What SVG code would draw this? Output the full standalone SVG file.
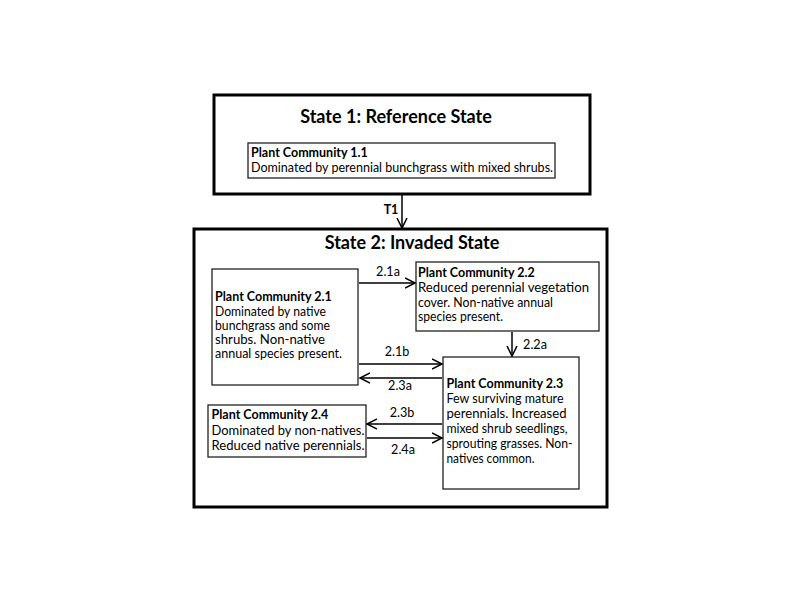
<svg xmlns="http://www.w3.org/2000/svg" width="800" height="600" viewBox="0 0 800 600">
<style>
  .state { fill: #ffffff; stroke: #000000; stroke-width: 3; }
  .pc { fill: #ffffff; stroke: #222222; stroke-width: 1.3; }
  .title { font-family: Lato, "Liberation Sans", Arial, sans-serif; font-weight: bold; font-size: 18px; fill: #000; text-anchor: middle; }
  .pch { font-family: Lato, "Liberation Sans", Arial, sans-serif; font-weight: bold; font-size: 12.5px; fill: #000; }
  .pct { font-family: Lato, "Liberation Sans", Arial, sans-serif; font-size: 12.4px; fill: #000; }
  .lbl { font-family: Lato, "Liberation Sans", Arial, sans-serif; font-size: 12.6px; fill: #000; text-anchor: middle; }
  .lblb { font-family: Lato, "Liberation Sans", Arial, sans-serif; font-weight: bold; font-size: 12.5px; fill: #000; text-anchor: middle; }
  .conn { stroke: #000; stroke-width: 1.5; fill: none; marker-end: url(#arr); }
</style>
<defs>
  <marker id="arr" markerUnits="userSpaceOnUse" markerWidth="14" markerHeight="14" refX="10" refY="6" orient="auto">
    <path d="M0,1 L10,6 L0,11" fill="none" stroke="#000" stroke-width="1.5"/>
  </marker>
</defs>
<rect width="800" height="600" fill="#ffffff"/>

<g id="state1">
  <rect class="state" x="214" y="95" width="376" height="99"/>
  <text class="title" x="396" y="123">State 1: Reference State</text>
</g>
<g id="pc11">
  <rect class="pc" x="248" y="143" width="307" height="35"/>
  <text class="pch" x="251" y="157">Plant Community 1.1</text>
  <text class="pct" x="251" y="172" textLength="302" lengthAdjust="spacingAndGlyphs">Dominated by perennial bunchgrass with mixed shrubs.</text>
</g>

<g id="state2">
  <rect class="state" x="194" y="229" width="413" height="278"/>
  <text class="title" x="412" y="249">State 2: Invaded State</text>
</g>

<g id="pc21">
  <rect class="pc" x="212" y="269" width="146" height="116"/>
  <text class="pch" x="215" y="301">Plant Community 2.1</text>
  <text class="pct" x="215" y="315.5" textLength="111" lengthAdjust="spacingAndGlyphs">Dominated by native</text>
  <text class="pct" x="215" y="330" textLength="115" lengthAdjust="spacingAndGlyphs">bunchgrass and some</text>
  <text class="pct" x="215" y="344" textLength="110" lengthAdjust="spacingAndGlyphs">shrubs. Non-native</text>
  <text class="pct" x="215" y="358" textLength="127" lengthAdjust="spacingAndGlyphs">annual species present.</text>
</g>

<g id="pc22">
  <rect class="pc" x="416" y="262" width="183" height="69"/>
  <text class="pch" x="418" y="277">Plant Community 2.2</text>
  <text class="pct" x="418" y="292" textLength="171" lengthAdjust="spacingAndGlyphs">Reduced perennial vegetation</text>
  <text class="pct" x="418" y="307" textLength="135" lengthAdjust="spacingAndGlyphs">cover. Non-native annual</text>
  <text class="pct" x="418" y="321" textLength="85" lengthAdjust="spacingAndGlyphs">species present.</text>
</g>

<g id="pc23">
  <rect class="pc" x="443" y="357" width="136" height="132"/>
  <text class="pch" x="446.5" y="388">Plant Community 2.3</text>
  <text class="pct" x="446.5" y="403" textLength="117" lengthAdjust="spacingAndGlyphs">Few surviving mature</text>
  <text class="pct" x="446.5" y="418" textLength="120" lengthAdjust="spacingAndGlyphs">perennials. Increased</text>
  <text class="pct" x="446.5" y="433" textLength="121" lengthAdjust="spacingAndGlyphs">mixed shrub seedlings,</text>
  <text class="pct" x="446.5" y="448" textLength="126" lengthAdjust="spacingAndGlyphs">sprouting grasses. Non-</text>
  <text class="pct" x="446.5" y="463" textLength="88" lengthAdjust="spacingAndGlyphs">natives common.</text>
</g>

<g id="pc24">
  <rect class="pc" x="208" y="405" width="158" height="52"/>
  <text class="pch" x="211.5" y="419">Plant Community 2.4</text>
  <text class="pct" x="211.5" y="435" textLength="153" lengthAdjust="spacingAndGlyphs">Dominated by non-natives.</text>
  <text class="pct" x="211.5" y="450" textLength="153" lengthAdjust="spacingAndGlyphs">Reduced native perennials.</text>
</g>

<g id="connectors">
  <line class="conn" x1="402" y1="195" x2="402" y2="228"/>
  <text class="lblb" x="391" y="214">T1</text>

  <line class="conn" x1="359" y1="283" x2="415" y2="283"/>
  <text class="lbl" x="388" y="276">2.1a</text>

  <line class="conn" x1="512" y1="332" x2="512" y2="356"/>
  <text class="lbl" x="535" y="349">2.2a</text>

  <line class="conn" x1="359" y1="364" x2="442" y2="364"/>
  <text class="lbl" x="397" y="356">2.1b</text>

  <line class="conn" x1="442" y1="378" x2="360" y2="378"/>
  <text class="lbl" x="400" y="390">2.3a</text>

  <line class="conn" x1="442" y1="424" x2="367" y2="424"/>
  <text class="lbl" x="402" y="417">2.3b</text>

  <line class="conn" x1="367" y1="438" x2="442" y2="438"/>
  <text class="lbl" x="403" y="454">2.4a</text>
</g>
</svg>
